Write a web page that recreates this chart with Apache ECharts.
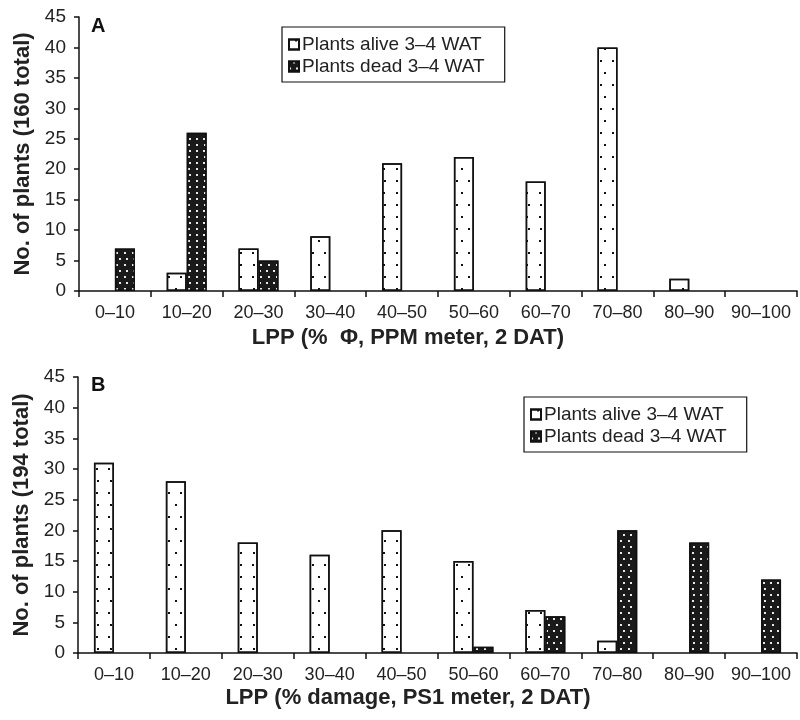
<!DOCTYPE html>
<html>
<head>
<meta charset="utf-8">
<script src="https://cdn.jsdelivr.net/npm/echarts@6/dist/echarts.min.js"></script>
<style>
  html, body { margin: 0; padding: 0; background: #fff; }
  #chart { width: 800px; height: 720px; }
</style>
</head>
<body>
<div id="chart"></div>
<script>
// LPP bins, shared by both panels
var categories = ['0–10', '10–20', '20–30', '30–40', '40–50', '50–60', '60–70', '70–80', '80–90', '90–100']
var yTicks = { min: 0, max: 45, interval: 5 }

// panel A: PPM meter (160 plants)
var aliveA = ['-', 3, 7, 9, 21, 22, 18, 40, 2, '-']
var deadA = [7, 26, 5, '-', '-', '-', '-', '-', '-', '-']

// panel B: PS1 meter (194 plants)
var aliveB = [31, 28, 18, 16, 20, 15, 7, 2, '-', '-']
var deadB = ['-', '-', '-', '-', '-', 1, 6, 20, 18, 12]

var ALIVE = 'Plants alive 3–4 WAT'
var DEAD = 'Plants dead 3–4 WAT'
var font = 'Liberation Sans, Arial, sans-serif'

var aliveStyle = {
  color: '#fff',
  borderColor: '#111',
  borderWidth: 1.5,
  decal: {
    symbol: 'rect',
    symbolSize: 1,
    color: '#111',
    dashArrayX: [[1.6, 10], [0, 5.8, 1.6, 4.2]],
    dashArrayY: [1.6, 9.5],
    rotation: 0
  }
}
var deadStyle = {
  color: '#1a1a1a',
  borderColor: '#111',
  borderWidth: 1.5,
  decal: {
    symbol: 'rect',
    symbolSize: 1,
    color: '#e8e8e8',
    dashArrayX: [[1.8, 5], [0, 3.4, 1.8, 1.6]],
    dashArrayY: [1.8, 3.2],
    rotation: 0
  }
}

var boldText = { fontFamily: font, fontSize: 22, fontWeight: 'bold', color: '#222' }

function xAxis(idx) {
  return {
    type: 'category',
    gridIndex: idx,
    data: categories,
    axisLine: { lineStyle: { color: '#111', width: 1.5 } },
    axisTick: { show: true, length: 6, lineStyle: { color: '#111', width: 1.5 } },
    axisLabel: { fontFamily: font, fontSize: 18, color: '#222', margin: 13, interval: 0 }
  }
}

function yAxis(idx, name) {
  return {
    type: 'value',
    gridIndex: idx,
    min: yTicks.min,
    max: yTicks.max,
    interval: yTicks.interval,
    name: name,
    nameLocation: 'middle',
    nameGap: 36,
    nameTextStyle: boldText,
    axisLine: { show: true, lineStyle: { color: '#111', width: 1.5 } },
    axisTick: { show: true, length: 5, lineStyle: { color: '#111', width: 1.5 } },
    axisLabel: { fontFamily: font, fontSize: 19, color: '#222', margin: 13 },
    splitLine: { show: false }
  }
}

function legend(left, top) {
  return {
    data: [ALIVE, DEAD],
    orient: 'vertical',
    left: left,
    top: top,
    icon: 'rect',
    itemWidth: 10,
    itemHeight: 10,
    itemGap: 3,
    padding: [8, 20, 6, 6],
    borderColor: '#111',
    borderWidth: 1.2,
    backgroundColor: '#fff',
    textStyle: { fontFamily: font, fontSize: 19, color: '#222', padding: [0, 0, 0, -2] }
  }
}

function bar(name, x, data, style) {
  return {
    name: name,
    type: 'bar',
    xAxisIndex: x,
    yAxisIndex: x,
    data: data,
    barWidth: 20,
    barGap: '0%',
    itemStyle: style,
    emphasis: { disabled: true }
  }
}

var chart = echarts.init(document.getElementById('chart'), null, { renderer: 'canvas' })
chart.setOption({
  animation: false,
  backgroundColor: '#fff',
  title: [
    { text: 'A', left: 86, top: 11, textStyle: { fontFamily: font, fontSize: 20, fontWeight: 'bold', color: '#111' } },
    { text: 'B', left: 86, top: 370, textStyle: { fontFamily: font, fontSize: 20, fontWeight: 'bold', color: '#111' } },
    { text: 'LPP (%  Φ, PPM meter, 2 DAT)', left: 408, textAlign: 'center', top: 327, padding: 0, textStyle: boldText },
    { text: 'LPP (% damage, PS1 meter, 2 DAT)', left: 408, textAlign: 'center', top: 687, padding: 0, textStyle: boldText }
  ],
  legend: [legend(282, 27), legend(524, 397)],
  grid: [
    { left: 79, right: 3, top: 17, height: 274 },
    { left: 78, right: 3, top: 377, height: 276 }
  ],
  xAxis: [xAxis(0), xAxis(1)],
  yAxis: [
    yAxis(0, 'No. of plants (160 total)'),
    yAxis(1, 'No. of plants (194 total)')
  ],
  series: [
    bar(ALIVE, 0, aliveA, aliveStyle),
    bar(DEAD, 0, deadA, deadStyle),
    bar(ALIVE, 1, aliveB, aliveStyle),
    bar(DEAD, 1, deadB, deadStyle)
  ]
})
</script>
</body>
</html>
